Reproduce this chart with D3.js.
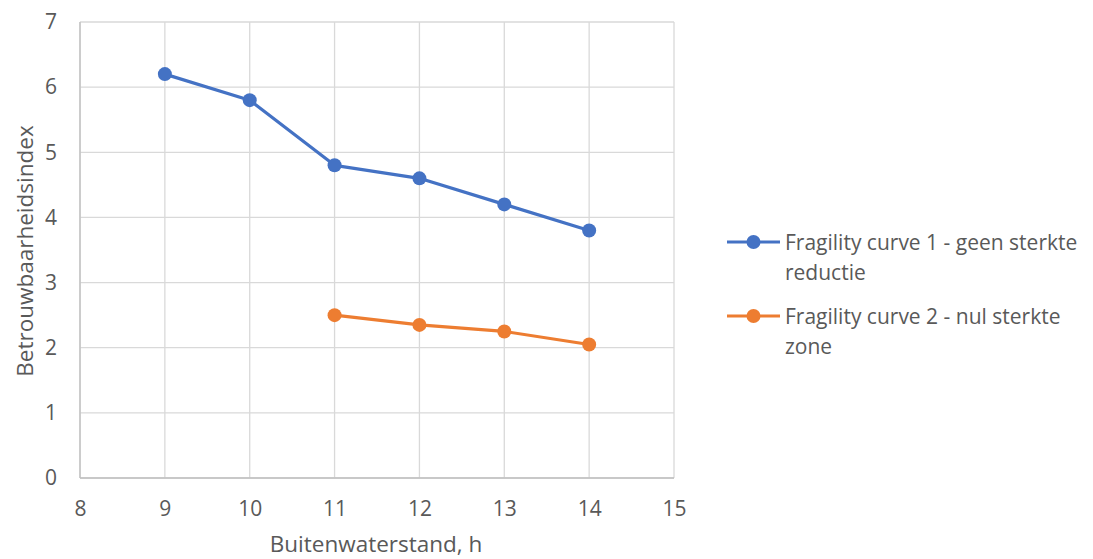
<!DOCTYPE html>
<html>
<head>
<meta charset="utf-8">
<script src="https://cdn.jsdelivr.net/npm/d3@7"></script>
<style>
  html, body { margin: 0; padding: 0; background: #fff; }
  svg text { font-family: "Open Sans", "Noto Sans", sans-serif; fill: #595959; }
</style>
</head>
<body>
<svg id="chart" width="1093" height="559"></svg>
<script>
// Water level (m) on the x-axis
const waterLevels1 = [9, 10, 11, 12, 13, 14];
const reliability1 = [6.2, 5.8, 4.8, 4.6, 4.2, 3.8];
const waterLevels2 = [11, 12, 13, 14];
const reliability2 = [2.5, 2.35, 2.25, 2.05];

const xTicks = [8, 9, 10, 11, 12, 13, 14, 15];
const yTicks = [0, 1, 2, 3, 4, 5, 6, 7];

const seriesNames = [
  ["Fragility curve 1 - geen sterkte", "reductie"],
  ["Fragility curve 2 - nul sterkte", "zone"]
];
const seriesColors = ["#4472C4", "#ED7D31"];

const svg = d3.select("#chart");
const plot = { left: 80, right: 674, top: 22, bottom: 478 };

const x = d3.scaleLinear().domain([8, 15]).range([plot.left, plot.right]);
const y = d3.scaleLinear().domain([0, 7]).range([plot.bottom, plot.top]);

// gridlines
const grid = svg.append("g");
grid.selectAll("line.v").data(xTicks).enter().append("line")
  .attr("x1", d => x(d)).attr("x2", d => x(d))
  .attr("y1", plot.top).attr("y2", plot.bottom)
  .attr("stroke", "#d9d9d9").attr("stroke-width", 1.3);
grid.selectAll("line.h").data(yTicks).enter().append("line")
  .attr("x1", plot.left).attr("x2", plot.right)
  .attr("y1", d => y(d)).attr("y2", d => y(d))
  .attr("stroke", "#d9d9d9").attr("stroke-width", 1.3);

// axis lines
svg.append("line").attr("x1", plot.left).attr("x2", plot.left)
  .attr("y1", plot.top).attr("y2", plot.bottom)
  .attr("stroke", "#bfbfbf").attr("stroke-width", 1.3);
svg.append("line").attr("x1", plot.left).attr("x2", plot.right)
  .attr("y1", plot.bottom).attr("y2", plot.bottom)
  .attr("stroke", "#bfbfbf").attr("stroke-width", 1.3);

// axes built with d3 axis generators, domain hidden
const xAxis = svg.append("g")
  .attr("transform", `translate(0,${plot.bottom})`)
  .call(d3.axisBottom(x).tickValues(xTicks).tickSize(0).tickPadding(23).tickFormat(d3.format("d")));
const yAxis = svg.append("g")
  .attr("transform", `translate(${plot.left},0)`)
  .call(d3.axisLeft(y).tickValues(yTicks).tickSize(0).tickPadding(23).tickFormat(d3.format("d")));
[xAxis, yAxis].forEach(a => {
  a.attr("font-size", null).attr("font-family", null);
  a.select(".domain").remove();
  a.selectAll("text").style("font-size", "21px").attr("fill", "#595959");
});

// axis titles
svg.append("text")
  .attr("x", (plot.left + plot.right) / 2 - 1).attr("y", 552)
  .attr("text-anchor", "middle").style("font-size", "22.5px")
  .text("Buitenwaterstand, h");
svg.append("text")
  .attr("transform", `translate(33,${(plot.top + plot.bottom) / 2 + 1}) rotate(-90)`)
  .attr("text-anchor", "middle").style("font-size", "22.5px")
  .text("Betrouwbaarheidsindex");

// series
const series = [
  waterLevels1.map((d, i) => [d, reliability1[i]]),
  waterLevels2.map((d, i) => [d, reliability2[i]])
];
const line = d3.line().x(d => x(d[0])).y(d => y(d[1]));
series.forEach((pts, i) => {
  svg.append("path").datum(pts)
    .attr("d", line).attr("fill", "none")
    .attr("stroke", seriesColors[i]).attr("stroke-width", 3.2)
    .attr("stroke-linejoin", "round");
  svg.selectAll(null).data(pts).enter().append("circle")
    .attr("cx", d => x(d[0])).attr("cy", d => y(d[1]))
    .attr("r", 7).attr("fill", seriesColors[i]);
});

// legend
const legendRows = [242, 316];
seriesNames.forEach((lines, i) => {
  const g = svg.append("g").attr("transform", `translate(727,${legendRows[i]})`);
  g.append("line").attr("x1", 0).attr("x2", 53).attr("y1", 0).attr("y2", 0)
    .attr("stroke", seriesColors[i]).attr("stroke-width", 3.2);
  g.append("circle").attr("cx", 26.5).attr("cy", 0).attr("r", 7).attr("fill", seriesColors[i]);
  lines.forEach((t, j) => {
    g.append("text").attr("x", 58).attr("y", 8 + j * 30)
      .style("font-size", "21px").text(t);
  });
});
</script>
</body>
</html>
